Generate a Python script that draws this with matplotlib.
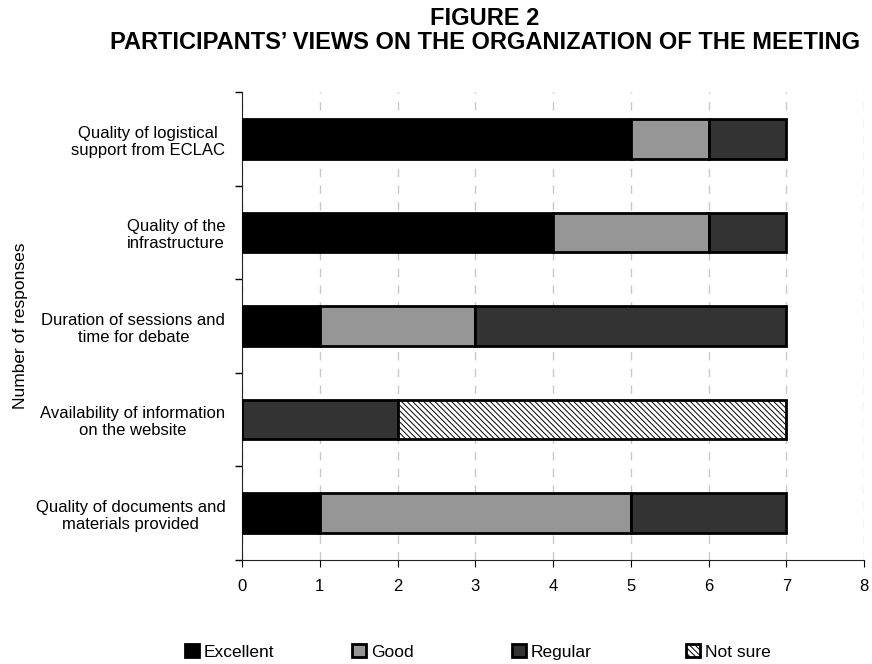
import numpy as np
import matplotlib
matplotlib.use('Agg')
import matplotlib.pyplot as plt

# Survey answers, top row first
items = ["Quality of logistical\nsupport from ECLAC",
         "Quality of the\ninfrastructure",
         "Duration of sessions and\ntime for debate",
         "Availability of information\non the website",
         "Quality of documents and\nmaterials provided"]
excellent = [5, 4, 1, 0, 1]
good = [1, 2, 2, 0, 4]
regular = [1, 1, 4, 2, 2]
not_sure = [0, 0, 0, 5, 0]

plt.rcParams['font.family'] = ['Liberation Sans', 'DejaVu Sans']
plt.rcParams['hatch.linewidth'] = 0.7

fig = plt.figure(figsize=(8.72, 6.64), dpi=100)
ax = fig.add_axes([0.2775, 0.157, 0.7135, 0.704])

y = np.arange(len(items))[::-1]
h = 0.42
left = np.zeros(len(items))
series = [("Excellent", excellent, "#000000", None),
          ("Good", good, "#969696", None),
          ("Regular", regular, "#333333", None),
          ("Not sure", not_sure, "white", "\\" * 6)]
handles = []
for name, vals, color, hatch in series:
    vals = np.array(vals, dtype=float)
    mask = vals > 0
    b = ax.barh(y[mask], vals[mask], left=left[mask], height=h, color=color,
                edgecolor="black", linewidth=2, hatch=hatch, label=name, zorder=3)
    handles.append(b)
    left += vals

ax.set_xlim(0, 8)
ax.set_ylim(-0.5, len(items) - 0.5)
ax.set_xticks(range(9))
ax.set_yticks(y)
ax.set_yticklabels(items, fontsize=12)
for lab in ax.get_yticklabels():
    lab.set_multialignment("center")
ax.tick_params(axis='y', length=0, pad=12)
ax.set_yticks(np.arange(-0.5, len(items)), minor=True)
ax.tick_params(axis='y', which='minor', length=5, width=1)
ax.tick_params(axis='x', labelsize=12, length=5, pad=9)
ax.xaxis.grid(True, linestyle=(0, (6, 6)), color="#c8c8c8", linewidth=1, zorder=0)
for s in ["top", "right"]:
    ax.spines[s].set_visible(False)
ax.spines["left"].set_color("#222222")
ax.spines["bottom"].set_color("#222222")

fig.text(0.015, 0.509, "Number of responses", rotation=90, va="center",
         ha="left", fontsize=12.5)
fig.text(0.556, 0.99, "FIGURE 2\nPARTICIPANTS\u2019 VIEWS ON THE ORGANIZATION OF THE MEETING",
         ha="center", va="top", fontsize=17, fontweight="bold", linespacing=1.1)

# legend entries spaced evenly along the bottom
legend_x = [185, 352, 512, 686]
for hnd, lx in zip(handles, legend_x):
    fig.legend(handles=[hnd], loc="center left", bbox_to_anchor=(lx / 872, 0.018),
               frameon=False, fontsize=12.5, borderpad=0, borderaxespad=0,
               handlelength=0.8, handleheight=0.8, handletextpad=0.3)

fig.savefig("out.png", dpi=100)
